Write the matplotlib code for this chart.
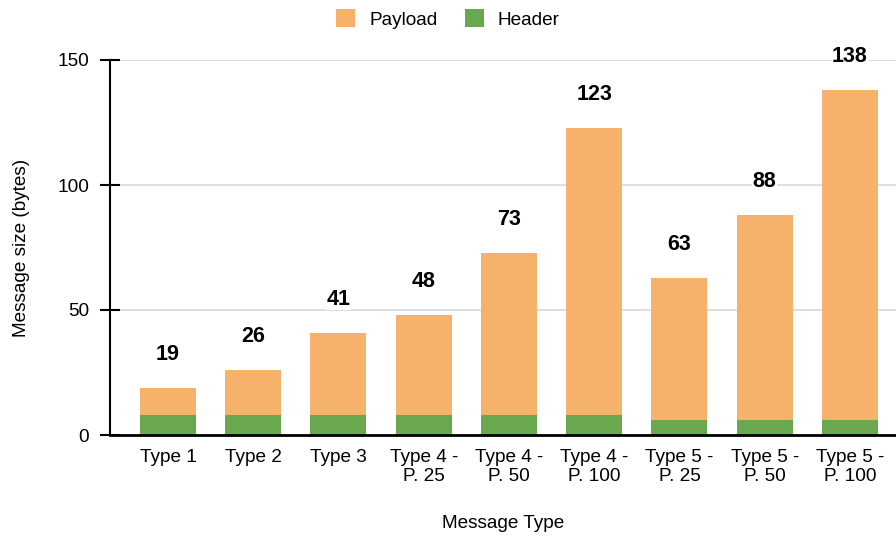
import numpy as np
import matplotlib
matplotlib.use("Agg")
import matplotlib.pyplot as plt
from matplotlib.patches import Patch

plt.rcParams["font.family"] = ["Liberation Sans", "DejaVu Sans"]

# message sizes in bytes
categories = ["Type 1", "Type 2", "Type 3", "Type 4 -\nP. 25", "Type 4 -\nP. 50",
              "Type 4 -\nP. 100", "Type 5 -\nP. 25", "Type 5 -\nP. 50", "Type 5 -\nP. 100"]
header = [8, 8, 8, 8, 8, 8, 6, 6, 6]
totals = [19, 26, 41, 48, 73, 123, 63, 88, 138]
payload = [t - h for t, h in zip(totals, header)]

PAYLOAD_COLOR = "#F6B26B"
HEADER_COLOR = "#6AA84F"
FS = 13.7

fig = plt.figure(figsize=(8.96, 5.42), dpi=100)
ax = fig.add_axes([110 / 896, 1 - 435 / 542, 1 - 110 / 896, 375 / 542])

x = np.arange(len(categories))
width = 0.657
ax.bar(x, header, width, color=HEADER_COLOR, zorder=3)
ax.bar(x, payload, width, bottom=header, color=PAYLOAD_COLOR, zorder=3)

for xi, total in zip(x, totals):
    ax.annotate(str(total), (xi, total), xytext=(0, 24), textcoords="offset points",
                ha="center", va="center", fontsize=15.5, fontweight="bold",
                bbox=dict(facecolor="white", edgecolor="none", pad=0.3),
                zorder=4, annotation_clip=False)

ax.set_xlim(-0.68, 8.54)
ax.set_ylim(0, 150)
ax.set_yticks([0, 50, 100, 150])
ax.set_xticks(x)
ax.set_xticklabels(categories, fontsize=FS, linespacing=1.15)
ax.tick_params(axis="x", length=0, pad=10)
ax.tick_params(axis="y", direction="inout", length=14, width=1.5, labelsize=FS, pad=8)

ax.grid(axis="y", color="#d9d9d9", linewidth=1.2, zorder=0)
for side in ("top", "right"):
    ax.spines[side].set_visible(False)
ax.spines["left"].set_linewidth(1.5)
ax.spines["bottom"].set_linewidth(2)
ax.spines["bottom"].set_zorder(5)

ax.set_xlabel("Message Type", fontsize=FS, labelpad=22)
ax.set_ylabel("Message size (bytes)", fontsize=FS, labelpad=20)

handles = [Patch(facecolor=PAYLOAD_COLOR, label="Payload"),
           Patch(facecolor=HEADER_COLOR, label="Header")]
fig.legend(handles=handles, loc="center", bbox_to_anchor=(0.5, 1 - 19 / 542), ncol=2,
           frameon=False, fontsize=FS, handlelength=1.0, handleheight=1.0,
           handletextpad=0.74, columnspacing=1.42)

fig.savefig("out.png", dpi=100)
